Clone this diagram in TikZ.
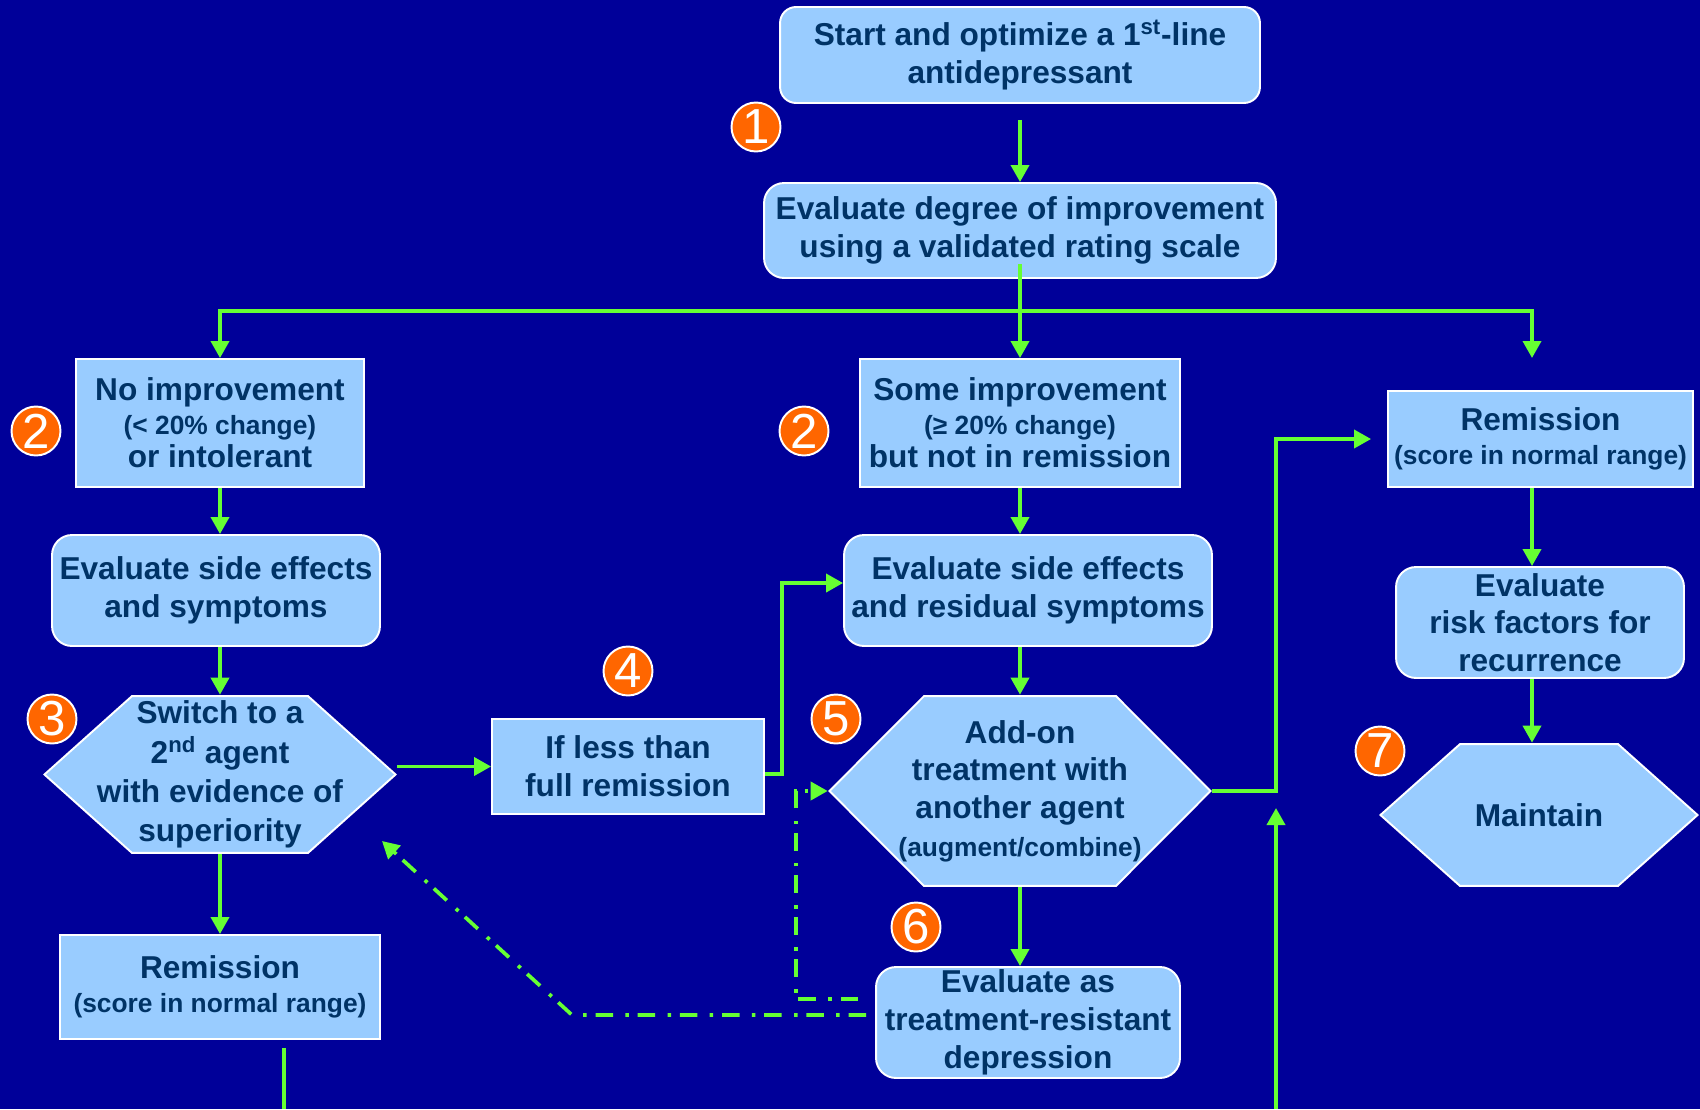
\documentclass[tikz,border=0pt]{standalone}
\usepackage{fontspec}
\setmainfont{Liberation Sans}
\usetikzlibrary{arrows.meta,calc}

\newcommand{\smallnote}{\fontsize{15}{18}\selectfont}

\begin{document}
\begin{tikzpicture}[
    x=0.02cm, y=-0.02cm,
    font=\fontsize{18}{21.5}\selectfont\bfseries,
    box/.style={draw=white, line width=1.1pt, fill=boxfill, text=ink, align=center, inner sep=1pt},
    roundbox/.style={box, rounded corners=0.4cm},
    noted/.style={font=\fontsize{18}{19}\selectfont\bfseries},
    hexbox/.style={text=ink, align=center, inner sep=1pt,
      path picture={
        \path[fill=boxfill, draw=white, line width=1.1pt]
          ([xshift=#1, yshift=-0.6pt]path picture bounding box.north west)
          -- ([xshift=-#1, yshift=-0.6pt]path picture bounding box.north east)
          -- ([xshift=-0.8pt]path picture bounding box.east)
          -- ([xshift=-#1, yshift=0.6pt]path picture bounding box.south east)
          -- ([xshift=#1, yshift=0.6pt]path picture bounding box.south west)
          -- ([xshift=0.8pt]path picture bounding box.west) -- cycle;
      }},
    badge/.style={circle, draw=white, line width=1.1pt, fill=badgefill, text=white,
      minimum size=0.98cm, inner sep=0pt, font=\fontsize{28}{28}\selectfont},
    wire/.style={draw=link, line width=2.1pt},
    flow/.style={wire, -{Triangle[length=0.34cm, width=0.36cm]}},
    loopback/.style={flow, dash pattern=on 10pt off 5pt on 2pt off 7pt}
]
\definecolor{bg}{HTML}{000099}
\definecolor{boxfill}{HTML}{99CCFF}
\definecolor{ink}{HTML}{003366}
\definecolor{link}{HTML}{66FF33}
\definecolor{badgefill}{HTML}{FF6600}

\def\colL{220}
\def\colM{1020}
\def\colR{1540}

\useasboundingbox (0,0) rectangle (1700,1109);
\fill[bg] (0,0) rectangle (1700,1109);

% top of the chart
\node[roundbox, rounded corners=0.32cm, minimum width=9.6cm, minimum height=1.92cm]
  (start) at (\colM,55) {Start and optimize a 1\textsuperscript{st}-line\\antidepressant};
\node[roundbox, minimum width=10.24cm, minimum height=1.9cm]
  (degree) at (\colM,230.5) {Evaluate degree of improvement\\using a validated rating scale};

% three outcomes
\node[box, noted, minimum width=5.76cm, minimum height=2.56cm]
  (noimp) at (\colL,423) {No improvement\\{\smallnote (< 20\% change)}\\or intolerant};
\node[box, noted, minimum width=6.4cm, minimum height=2.56cm]
  (someimp) at (\colM,423) {Some improvement\\{\smallnote (≥ 20\% change)}\\but not in remission};
\node[box, noted, minimum width=6.1cm, minimum height=1.92cm]
  (remR) at (1540.5,439) {Remission\\{\smallnote (score in normal range)}};

% left column
\node[roundbox, minimum width=6.56cm, minimum height=2.22cm]
  (evalL) at (216,590.5) {Evaluate side effects\\and symptoms};
\node[hexbox=1.78cm, minimum width=7.08cm, minimum height=3.18cm, font=\fontsize{18}{22.3}\selectfont\bfseries]
  (hexA) at (\colL,774.5) {Switch to a\\2\textsuperscript{nd} agent\\with evidence of\\superiority};
\node[box, noted, minimum width=6.4cm, minimum height=2.08cm]
  (remL) at (\colL,987) {Remission\\{\smallnote (score in normal range)}};
\node[box, minimum width=5.44cm, minimum height=1.9cm]
  (ifless) at (628,766.5) {If less than\\full remission};

% middle column
\node[roundbox, minimum width=7.36cm, minimum height=2.22cm]
  (evalR) at (1028,590.5) {Evaluate side effects\\and residual symptoms};
\node[hexbox=1.92cm, noted, minimum width=7.68cm, minimum height=3.84cm, font=\fontsize{18}{21.5}\selectfont\bfseries]
  (hexB) at (\colM,791) {Add-on\\treatment with\\another agent\\{\smallnote (augment/combine)}};
\node[roundbox, minimum width=6.08cm, minimum height=2.22cm]
  (trd) at (1028,1022.5) {Evaluate as\\treatment-resistant\\depression};

% right column
\node[roundbox, minimum width=5.76cm, minimum height=2.22cm]
  (risk) at (\colR,622.5) {Evaluate\\risk factors for\\recurrence};
\node[hexbox=1.62cm, minimum width=6.4cm, minimum height=2.88cm]
  (maint) at (1539,815) {Maintain};

% step numbers
\foreach \x/\y/\n/\k in {756/127/1/a, 36/431/2/b, 804/431/2/c, 52/719/3/d,
    628/671/4/e, 836/719/5/f, 916/927/6/g, 1380/751/7/h} {
  \node[badge] (badge\k) at (\x,\y) {\n};
}

% connectors
\coordinate (bus) at (\colM,311);
\coordinate (dropR) at (1532,358);
\coordinate (upBase) at (1276,1109);
\coordinate (upTip) at (1276,808);
\coordinate (remLout) at (284,1109);
\coordinate (bendA) at (572,1015);
\coordinate (backA) at (382,841);

\draw[flow, shorten <=0.32cm] (start) -- (degree);
\draw[wire] ([yshift=0.3cm]degree.south) -- (bus);
\draw[flow] (bus) -| (noimp.north);
\draw[flow] (bus) -- (someimp.north);
\draw[flow] (bus) -| (dropR);

\draw[flow] (noimp.south) -- (noimp.south |- evalL.north);
\draw[flow] (hexA.north |- evalL.south) -- (hexA.north);
\draw[flow] (hexA.south) -- (remL.north);
\draw[flow] (hexA.east |- ifless.west) -- (ifless.west);
\draw[flow] ([yshift=-0.15cm]ifless.east) -- ++(17,0) |- ([yshift=0.15cm]evalR.west);
\draw[wire, shorten <=0.16cm] (remL.south -| remLout) -- (remLout);

\draw[flow] (someimp.south) -- (someimp.south |- evalR.north);
\draw[flow] (hexB.north |- evalR.south) -- (hexB.north);
\draw[flow] (hexB.south) -- (hexB.south |- trd.north);
\draw[flow, shorten >=0.32cm] (hexB.east) -- ++(64,0) |- (remR.west);
\draw[flow] (upBase) -- (upTip);

\draw[flow] (remR.south -| dropR) -- (risk.north -| dropR);
\draw[flow] (risk.south -| dropR) -- (maint.north -| dropR);

% back to the switch and to the add-on
\draw[loopback] ($(trd.west)+(-9,-7.5)$) -- (bendA) -- (backA);
\draw[loopback] ($(trd.west)+(-17,-23.5)$) -| ($(hexB.west)+(-32,0)$) -- (hexB.west);
\end{tikzpicture}
\end{document}
